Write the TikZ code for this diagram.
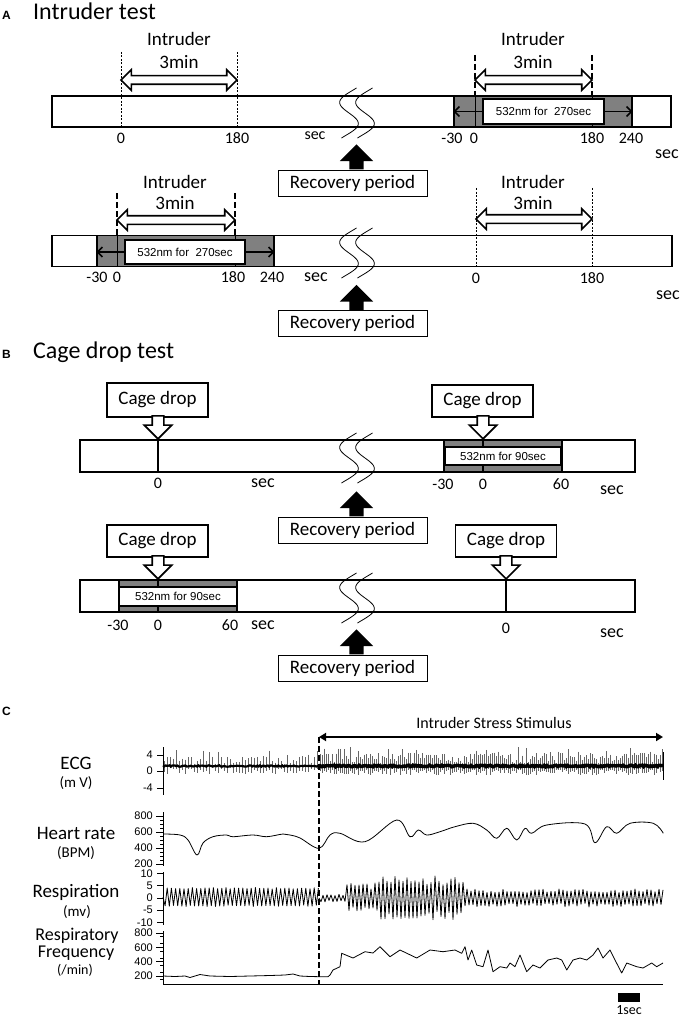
\documentclass[tikz,border=0pt]{standalone}
\usepackage{fontspec}
\setmainfont{Carlito}
\newfontfamily\arialf{Liberation Sans}
\usetikzlibrary{shapes.arrows,arrows.meta}

% wavy break across a time bar
\newcommand{\brkmark}[2]{%
  \draw[brk] plot[domain=-25:25,samples=40] ({#1-0.15*\x+11*sin(8*\x)},{#2+\x});
  \draw[brk] plot[domain=-25:25,samples=40] ({#1+16-0.15*\x+11*sin(8*\x)},{#2+\x});
}

\begin{document}
\begin{tikzpicture}[x=1pt,y=-1pt]
        \tikzstyle{barbox}=[draw, line width=1.6pt, fill=white, inner sep=0pt, minimum height=31pt]
        \tikzstyle{lightbox}=[draw, line width=1.2pt, fill=black!50, inner sep=0pt, minimum height=31pt]
        \tikzstyle{lasbox}=[draw, line width=1.5pt, fill=white, inner sep=0pt, font=\arialf\fontsize{11.5}{13}\selectfont]
        \tikzstyle{recbox}=[draw, line width=0.8pt, fill=white, inner sep=0pt, minimum width=149pt, minimum height=26pt, font=\fontsize{19}{21}\selectfont]
        \tikzstyle{dropbox}=[draw, line width=1.5pt, fill=white, inner sep=0pt, minimum width=101pt, minimum height=32pt, font=\fontsize{19}{21}\selectfont]
        \tikzstyle{twoarr}=[double arrow, draw, line width=1.6pt, fill=white, inner sep=3.5pt, minimum width=19pt, double arrow head extend=6pt]
        \tikzstyle{droparr}=[single arrow, draw, line width=1.6pt, fill=white, inner sep=5pt, minimum width=26pt, single arrow head extend=8pt, minimum height=23pt, shape border rotate=270, anchor=tip]
        \tikzstyle{recarr}=[single arrow, fill=black, inner sep=7pt, minimum width=33pt, single arrow head extend=9.5pt, minimum height=25pt, shape border rotate=90, anchor=tail]
        \tikzstyle{thindash}=[line width=0.6pt, dash pattern=on 2pt off 1.5pt]
        \tikzstyle{thickdash}=[line width=1.6pt, dash pattern=on 6pt off 3pt]
        \tikzstyle{brk}=[line width=0.8pt]
        \tikzstyle{lasarr}=[line width=1.5pt, -{Straight Barb[length=5pt,width=10pt]}]
        \tikzstyle{tlab}=[inner sep=0pt, font=\fontsize{16}{18}\selectfont]
        \tikzstyle{seclab}=[inner sep=0pt, font=\fontsize{18}{20}\selectfont]
        \tikzstyle{intlab}=[inner sep=0pt, font=\fontsize{19}{21}\selectfont]
        \tikzstyle{ttl}=[inner sep=0pt, anchor=base west, font=\fontsize{24}{26}\selectfont]
        \tikzstyle{plet}=[inner sep=0pt, anchor=base west, font=\arialf\bfseries\fontsize{12}{13}\selectfont]
        \tikzstyle{sigl}=[inner sep=0pt, font=\fontsize{19}{20}\selectfont]
        \tikzstyle{unitl}=[inner sep=0pt, font=\fontsize{15}{16}\selectfont]
        \tikzstyle{axl}=[inner sep=0pt, anchor=east, font=\arialf\fontsize{11}{12}\selectfont]
        \tikzstyle{axis}=[line width=0.7pt]
        \tikzstyle{trace}=[line width=0.8pt, line join=round]

        \useasboundingbox (0,0) rectangle (680,1019);

        % ---- A: intruder test ----
        \node[plet] (letA) at (2,20) {A};
        \node[ttl] (titA) at (33,20) {Intruder test};

        % first day
        \node[barbox, minimum width=619pt] (barA1) at (361.5,111.5) {};
        \draw[thindash] (121,52) -- (121,127);
        \draw[thindash] (237,52) -- (237,127);
        \node[twoarr, minimum height=116pt] (durA1a) at (179,80) {};
        \node[intlab] (intA1a) at (179,39) {Intruder};
        \node[intlab] (minA1a) at (179,62) {3min};
        \node[tlab] (tA1a) at (121,138) {0};
        \node[tlab] (tA1b) at (237,138) {180};
        \node[tlab] (sA1a) at (315,136) {sec};

        \node[lightbox, minimum width=178pt] (grayA1) at (543,111.5) {};
        \draw[thickdash] (475,55) -- (475,96);
        \draw[thickdash] (592,55) -- (592,96);
        \draw[line width=0.8pt] (475,96) -- (475,127);
        \draw[line width=0.8pt] (592,96) -- (592,127);
        \node[lasbox, minimum width=121pt, minimum height=25pt] (lasA1) at (543.5,111.5) {532nm for\ \ 270sec};
        \draw[lasarr] (lasA1.west) -- (lasA1.west -| grayA1.west);
        \draw[lasarr] (lasA1.east) -- (lasA1.east -| grayA1.east);
        \node[twoarr, minimum height=117pt] (durA1b) at (533.5,80) {};
        \node[intlab] (intA1b) at (533,39) {Intruder};
        \node[intlab] (minA1b) at (533,62) {3min};
        \node[tlab] (tA1c) at (452,138) {-30};
        \node[tlab] (tA1d) at (474,138) {0};
        \node[tlab] (tA1e) at (592,138) {180};
        \node[tlab] (tA1f) at (631,138) {240};
        \node[seclab] (sA1b) at (667,154) {sec};

        \brkmark{349}{113}
        \node[recbox] (recA1) at (352.5,183) {Recovery period};
        \node[recarr] (upA1) at ([xshift=4pt]recA1.north) {};

        % second day
        \node[barbox, minimum width=620pt] (barA2) at (362,251) {};
        \node[lightbox, minimum width=177pt] (grayA2) at (185.5,251) {};
        \draw[thickdash] (117,193) -- (117,235);
        \draw[thickdash] (235,193) -- (235,235);
        \draw[line width=0.8pt] (117,235) -- (117,267);
        \draw[line width=0.8pt] (235,235) -- (235,267);
        \node[lasbox, minimum width=120pt, minimum height=24pt] (lasA2) at (185,252) {532nm for\ \ 270sec};
        \draw[lasarr] (lasA2.west) -- (lasA2.west -| grayA2.west);
        \draw[lasarr] (lasA2.east) -- (lasA2.east -| grayA2.east);
        \node[twoarr, minimum height=118pt] (durA2a) at (176,220) {};
        \node[intlab] (intA2a) at (175,182) {Intruder};
        \node[intlab] (minA2a) at (175,203) {3min};
        \node[tlab] (tA2a) at (97,277) {-30};
        \node[tlab] (tA2b) at (117,277) {0};
        \node[tlab] (tA2c) at (233,277) {180};
        \node[tlab] (tA2d) at (272,277) {240};
        \node[seclab] (sA2a) at (316,277) {sec};

        \draw[thindash] (476,188) -- (476,267);
        \draw[thindash] (592,188) -- (592,267);
        \node[twoarr, minimum height=116pt] (durA2b) at (534,219) {};
        \node[intlab] (intA2b) at (533,182) {Intruder};
        \node[intlab] (minA2b) at (533,203) {3min};
        \node[tlab] (tA2e) at (476,278) {0};
        \node[tlab] (tA2f) at (592,278) {180};
        \node[seclab] (sA2b) at (668,295) {sec};

        \brkmark{349}{253}
        \node[recbox] (recA2) at (352.5,323.5) {Recovery period};
        \node[recarr] (upA2) at ([xshift=4pt]recA2.north) {};

        % ---- B: cage drop test ----
        \node[plet] (letB) at (2,358) {B};
        \node[ttl] (titB) at (33,358) {Cage drop test};

        % first day
        \node[barbox, minimum width=555pt, minimum height=32pt] (barB1) at (357.5,456) {};
        \draw[line width=1.2pt] (158,440) -- (158,472);
        \node[dropbox, minimum height=34pt] (cdB1a) at (157.5,400) {Cage drop};
        \node[droparr] (dnB1a) at (158,440) {};
        \node[tlab] (tB1a) at (158,483) {0};
        \node[seclab] (sB1a) at (263,483) {sec};

        \node[lightbox, minimum width=118pt, minimum height=32pt] (grayB1) at (503,456) {};
        \draw[line width=1.2pt] (483,440) -- (483,472);
        \node[lasbox, minimum width=116pt, minimum height=18pt] (lasB1) at (503,456) {532nm for 90sec};
        \node[dropbox] (cdB1b) at (482.5,401) {Cage drop};
        \node[droparr] (dnB1b) at (483,440) {};
        \node[tlab] (tB1b) at (443,484) {-30};
        \node[tlab] (tB1c) at (483,484) {0};
        \node[tlab] (tB1d) at (561,484) {60};
        \node[seclab] (sB1b) at (612,490) {sec};

        \brkmark{349}{458}
        \node[recbox] (recB1) at (352.5,530) {Recovery period};
        \node[recarr] (upB1) at ([xshift=4pt]recB1.north) {};

        % second day
        \node[barbox, minimum width=555pt, minimum height=32pt] (barB2) at (357.5,596) {};
        \node[lightbox, minimum width=118pt, minimum height=32pt] (grayB2) at (178,596) {};
        \draw[line width=1.2pt] (158,580) -- (158,612);
        \node[lasbox, minimum width=118pt, minimum height=19pt] (lasB2) at (178,596.5) {532nm for 90sec};
        \node[dropbox] (cdB2a) at (157.5,541) {Cage drop};
        \node[droparr] (dnB2a) at (158,580) {};
        \node[tlab] (tB2a) at (118,625) {-30};
        \node[tlab] (tB2b) at (158,625) {0};
        \node[tlab] (tB2c) at (230,625) {60};
        \node[seclab] (sB2a) at (263,625) {sec};

        \draw[line width=1.2pt] (506,580) -- (506,612);
        \node[dropbox] (cdB2b) at (506,541) {Cage drop};
        \node[droparr] (dnB2b) at (506,580) {};
        \node[tlab] (tB2d) at (506,628) {0};
        \node[seclab] (sB2b) at (612,633) {sec};

        \brkmark{349}{598}
        \node[recbox] (recB2) at (352.5,668) {Recovery period};
        \node[recarr] (upB2) at ([xshift=4pt]recB2.north) {};

        % ---- C: recordings ----
        \node[plet] (letC) at (2,715) {C};
        \node[inner sep=0pt, font=\fontsize{16}{18}\selectfont] (stim) at (494,723) {Intruder Stress Stimulus};
        \coordinate (stimL) at (319,737);
        \coordinate (stimR) at (663,737);
        \coordinate (axbase) at (163,984);
        \draw[line width=2.5pt, {Triangle[length=7pt,width=8pt]}-{Triangle[length=7pt,width=8pt]}] (stimL) -- (stimR);

        % signal names
        \node[sigl] (ecg) at (76,763) {ECG};
        \node[unitl] (ecgu) at (76,783) {(m V)};
        \node[sigl] (hr) at (76,833) {Heart rate};
        \node[unitl] (hru) at (76,853) {(BPM)};
        \node[sigl] (resp) at (76,892) {Respiration};
        \node[unitl] (respu) at (77,912) {(mv)};
        \node[sigl, font=\fontsize{18}{19}\selectfont] (rf1) at (77,936) {Respiratory};
        \node[sigl, font=\fontsize{18}{19}\selectfont] (rf2) at (76,953) {Frequency};
        \node[unitl, font=\fontsize{14}{15}\selectfont] (rfu) at (75,970) {(/min)};

        % axes
        \draw[axis] (163,747) -- (163,795);
        \foreach \v/\yy in {4/755,0/771,-4/788} {
            \draw[axis] (157,\yy) -- (163,\yy);
            \node[axl] (ecg\v) at (153,\yy) {\v};
        }
        \draw[axis] (163,812) -- (163,866);
        \foreach \v in {250,300,...,750} \draw[axis] (160,{816+(800-\v)*0.08}) -- (163,{816+(800-\v)*0.08});
        \foreach \v in {800,600,400,200} {
            \draw[axis] (156,{816+(800-\v)*0.08}) -- (163,{816+(800-\v)*0.08});
            \node[axl] (hr\v) at (153,{816+(800-\v)*0.08}) {\v};
        }
        \draw[axis] (163,872) -- (163,925);
        \foreach \v in {10,5,0,-5,-10} {
            \draw[axis] (157,{898-2.45*\v}) -- (163,{898-2.45*\v});
            \node[axl] (rs\v) at (153,{898-2.45*\v}) {\v};
        }
        \draw[axis] (163,931) -- (axbase) -- (663,984);
        \foreach \v in {150,250,...,750} \draw[axis] (160,{933+(800-\v)*0.0717}) -- (163,{933+(800-\v)*0.0717});
        \foreach \v in {800,600,400,200} {
            \draw[axis] (156,{933+(800-\v)*0.0717}) -- (163,{933+(800-\v)*0.0717});
            \node[axl] (rf\v) at (153,{933+(800-\v)*0.0717}) {\v};
        }

        % ECG
        \pgfmathsetseed{12}
        \foreach \i in {0,...,51} {
            \pgfmathsetmacro{\ex}{164+3*\i}
            \pgfmathsetmacro{\eu}{2+8*rnd+7*(rnd>0.85)}
            \pgfmathsetmacro{\ed}{2+6*rnd}
            \draw[line width=0.6pt, black!60] (\ex,766-\eu) -- (\ex,766+\ed);
        }
        \foreach \i in {0,...,171} {
            \pgfmathsetmacro{\ex}{320+2*\i}
            \pgfmathsetmacro{\eu}{3+10*rnd+6*(rnd>0.8)}
            \pgfmathsetmacro{\ed}{3+6*rnd}
            \draw[line width=0.6pt, black!60] (\ex,766-\eu) -- (\ex,766+\ed);
        }
        \draw[line width=2.2pt] plot[domain=163:319, samples=120] (\x,{766+0.7*rand});
        \draw[line width=3.5pt] plot[domain=319:663, samples=250] (\x,{766+0.8*rand});
        \draw[line width=0.8pt] (663,752) -- (663,780);

        % heart rate
        \draw[trace] plot[smooth, tension=0.6] coordinates {(163,834) (180,835) (188,840) (197,855) (203,843) (213,836.7) (226.7,835) (233,836.7) (253,835) (266.7,836.7) (283,834) (290,835) (300,838) (319,848.3) (330,835) (340,833.3) (365,841.7) (396.7,820) (410,836.7) (418.3,830) (426.7,835) (440,831.7) (455,826.7) (473.3,823.3) (486.7,830) (496.7,838.3) (506.7,828.3) (516.7,840) (525,828.3) (531.7,833.3) (546.7,825) (585,824) (595,842.7) (606.7,826.7) (616.7,833.3) (630,823.3) (653.3,823.3) (663.3,833.3)};

        % respiration
        \draw[trace] (163,897) \foreach \i in {1,...,74} { -- ({163+2.1*\i},{897+9.5*(2*mod(\i,2)-1)*(0.85+0.15*rnd)}) };
        \draw[trace] (319,898) \foreach \i in {1,...,172} { -- ({319+2*\i},{898+(2*mod(\i,2)-1)*(4+11*((319+2*\i)>345)+7*((319+2*\i)>377)-13*((319+2*\i)>463))*(0.6+0.4*rnd)}) };

        % respiratory frequency
        \draw[trace] plot coordinates {(163,976) (175,976.5) (185,976) (190,977.5) (195,976) (200,974.5) (210,976) (230,976.5) (250,976) (270,975.5) (285,975) (293,974) (300,976) (310,976.5) (320,976.7) (328,976.7) (330,975) (333,970) (340,966.7) (341.7,953.3) (353,958) (365,951.7) (373,953) (380,946.7) (390,956.7) (400,950) (416.7,958) (430,950) (443,951.7) (455,950) (461.7,953.3) (465,946.7) (468,960) (471.7,950) (476.7,965) (483,966.7) (488,950) (493,971.7) (500,966.7) (506.7,968) (510,963) (515,966.7) (520,955) (526.7,971.7) (533,965) (540,968) (548,960) (556.7,958) (561.7,960) (566.7,970) (573,960) (580,958) (586.7,960) (593,955) (598,948) (603,958) (610,950) (615,960) (621.7,973) (626.7,963) (636.7,966.7) (643,968) (651.7,963) (656.7,966.7) (663,963)};

        % stimulus onset
        \draw[thickdash] (stimL) -- (stimL |- axbase);

        % time scale
        \node[fill=black, minimum width=22pt, minimum height=9pt, inner sep=0pt] (scl) at (629,997.5) {};
        \node[inner sep=0pt, font=\fontsize{14}{15}\selectfont] (scll) at (629,1010.5) {1sec};
\end{tikzpicture}
\end{document}
